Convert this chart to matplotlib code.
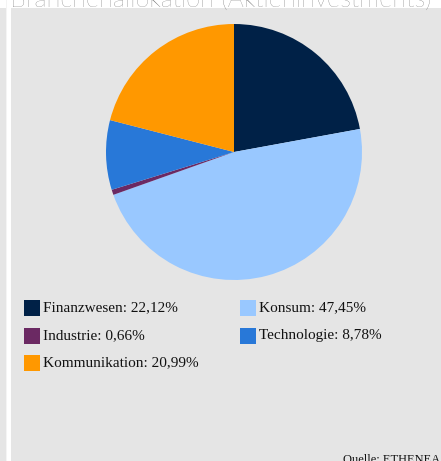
import matplotlib
matplotlib.use("Agg")
import matplotlib.pyplot as plt
from matplotlib.patches import Rectangle

# data
sectors = ['Finanzwesen', 'Konsum', 'Industrie', 'Technologie', 'Kommunikation']
shares = [22.12, 47.45, 0.66, 8.78, 20.99]
colors = ['#002147', '#99c8ff', '#6b2963', '#2878d8', '#ff9800']
title = 'Branchenallokation (Aktieninvestments)'
source = 'Quelle: ETHENEA'

W, H = 441, 461
BG = '#e5e5e5'

fig = plt.figure(figsize=(W / 100, H / 100), dpi=100, facecolor=BG)

def px_rect(x0, y0, w, h, color):
    # rectangle in pixel coords measured from the top-left
    fig.patches.append(Rectangle((x0 / W, 1 - (y0 + h) / H), w / W, h / H,
                                 transform=fig.transFigure, facecolor=color,
                                 edgecolor='none', zorder=0))

# white frame bits (page behind the panel)
px_rect(0, 0, W, 8, 'white')
px_rect(6, 0, 5, H, '#f4f4f4')
px_rect(7, 0, 4, H, 'white')

# title, cut off at the top
fig.text(221 / W, 1 - 6.5 / H, title, ha='center', va='baseline',
         fontsize=18.3, color='#666666', family='Lato', fontweight='light')

# pie
cx, cy, r = 234, 152, 128
ax = fig.add_axes([(cx - r) / W, 1 - (cy + r) / H, 2 * r / W, 2 * r / H])
ax.pie(shares, colors=colors, startangle=90, counterclock=False,
       wedgeprops={'linewidth': 0})
ax.set_xlim(-1, 1)
ax.set_ylim(-1, 1)
ax.set_aspect('equal')
ax.axis('off')

# legend, row-major in two columns
col_x = [24, 240]
row_y = [300, 327.5, 355]
for i, (name, val, c) in enumerate(zip(sectors, shares, colors)):
    x = col_x[i % 2]
    y = row_y[i // 2]
    px_rect(x, y, 16, 16, c)
    label = f"{name}: {val:.2f}%".replace('.', ',')
    fig.text((x + 19) / W, 1 - (y + 8) / H, label, ha='left', va='center',
             fontsize=11, family='Liberation Serif', color='#111111')

fig.text(343 / W, 1 - 463 / H, source, ha='left', va='baseline',
         fontsize=9, family='Liberation Serif', color='#111111')

fig.savefig('out.png', dpi=100, facecolor=BG)
